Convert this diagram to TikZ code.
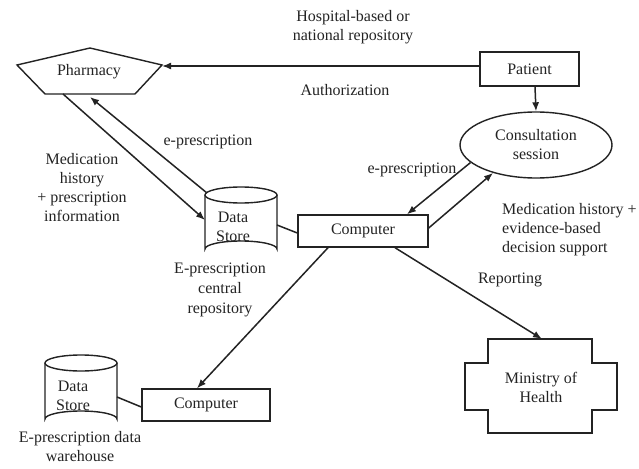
\documentclass[tikz,border=0pt]{standalone}
\usepackage{fontspec}
\setmainfont{Liberation Serif}
\usetikzlibrary{arrows.meta,shapes.geometric}
\definecolor{ink}{RGB}{35,35,35}
\begin{document}
\begin{tikzpicture}[x=1pt,y=-1pt,
  every node/.style={font=\fontsize{16}{19}\selectfont, text=ink},
  lbl/.style={align=center, inner sep=0pt},
  box/.style={draw=ink, line width=1.4pt, rectangle, inner sep=0pt},
  conn/.style={draw=ink, line width=1.5pt},
  arr/.style={conn, -{Latex[length=9pt,width=7pt]}},
  shp/.style={draw=ink, line width=1.4pt}
]
\useasboundingbox[fill=white] (0,0) rectangle (639,468);

% Pharmacy pentagon
\draw[shp] (17,65) -- (90,48) -- (162,65) -- (135,94) -- (45,94) -- cycle;
\node[lbl] (pharm) at (89,72) {Pharmacy};
\coordinate (pharmR) at (162,66);
\coordinate (pharmB1) at (63,94);
\coordinate (pharmB2) at (90,97);

% Patient
\node[box, minimum width=99pt, minimum height=34pt] (patient) at (529.5,69) {Patient};

% Consultation
\node[draw=ink, line width=1.4pt, ellipse, minimum width=152pt, minimum height=66pt, inner sep=0pt, align=center] (consult) at (536,145) {Consultation\\session};

% Computers
\node[box, minimum width=130pt, minimum height=32pt] (comp) at (363,231) {Computer};
\node[box, minimum width=128pt, minimum height=32pt] (comp2) at (206,405) {Computer};

% Data store 1
\draw[shp] (205,195) -- (205,249) arc[start angle=180,end angle=360,x radius=36,y radius=8] -- (277,195);
\draw[shp] (241,195) ellipse[x radius=36,y radius=8];
\node[lbl] (ds1) at (233,227) {Data\\Store};
\coordinate (ds1R) at (277,225);
\coordinate (ds1A) at (205,220);
\coordinate (ds1B) at (207,193);

% Data store 2
\draw[shp] (45,363) -- (45,419) arc[start angle=180,end angle=360,x radius=36,y radius=8] -- (117,363);
\draw[shp] (81,363) ellipse[x radius=36,y radius=8];
\node[lbl] (ds2) at (73,396) {Data\\Store};
\coordinate (ds2R) at (117,397);

% Ministry of Health
\draw[shp] (488,339) -- (592,339) -- (592,363) -- (617,363) -- (617,410) -- (592,410) -- (592,433)
  -- (488,433) -- (488,410) -- (465,410) -- (465,363) -- (488,363) -- cycle;
\node[lbl] (ministry) at (541,387) {Ministry of\\Health};
\coordinate (minT) at (542,339);

% Labels
\node[lbl] (l1) at (353,27) {Hospital-based or\\national repository};
\node[lbl] (l2) at (345,90) {Authorization};
\node[lbl] (l3) at (208,142) {e-prescription};
\node[lbl] (l4) at (82,188) {Medication\\history\\+ prescription\\information};
\node[lbl] (l5) at (412,170) {e-prescription};
\node[lbl, align=left, anchor=west] (l6) at (502,230) {Medication history +\\evidence-based\\decision support};
\node[lbl] (l7) at (510,280) {Reporting};
\node[lbl, font=\fontsize{16}{20}\selectfont] (l8) at (220,290) {E-prescription\\central\\repository};
\node[lbl] (l9) at (80,447) {E-prescription data\\warehouse};

% Connectors
\draw[arr] ([yshift=3pt]patient.west) -- (pharmR);
\draw[arr] ([xshift=5.5pt]patient.south) -- (consult.north);
\draw[arr] (consult.195) -- ([xshift=44pt]comp.north);
\draw[arr] ([yshift=3pt]comp.east) -- (consult.213);
\draw[arr] ([xshift=32pt]comp.south) -- (minT);
\draw[arr] ([xshift=-35pt]comp.south) -- ([xshift=-9pt]comp2.north);
\draw[conn] (ds1R) -- ([yshift=-2pt]comp.west);
\draw[conn] (ds2R) -- ([yshift=-2pt]comp2.west);
\draw[arr] (pharmB1) -- (ds1A);
\draw[arr] (ds1B) -- (pharmB2);
\end{tikzpicture}
\end{document}
